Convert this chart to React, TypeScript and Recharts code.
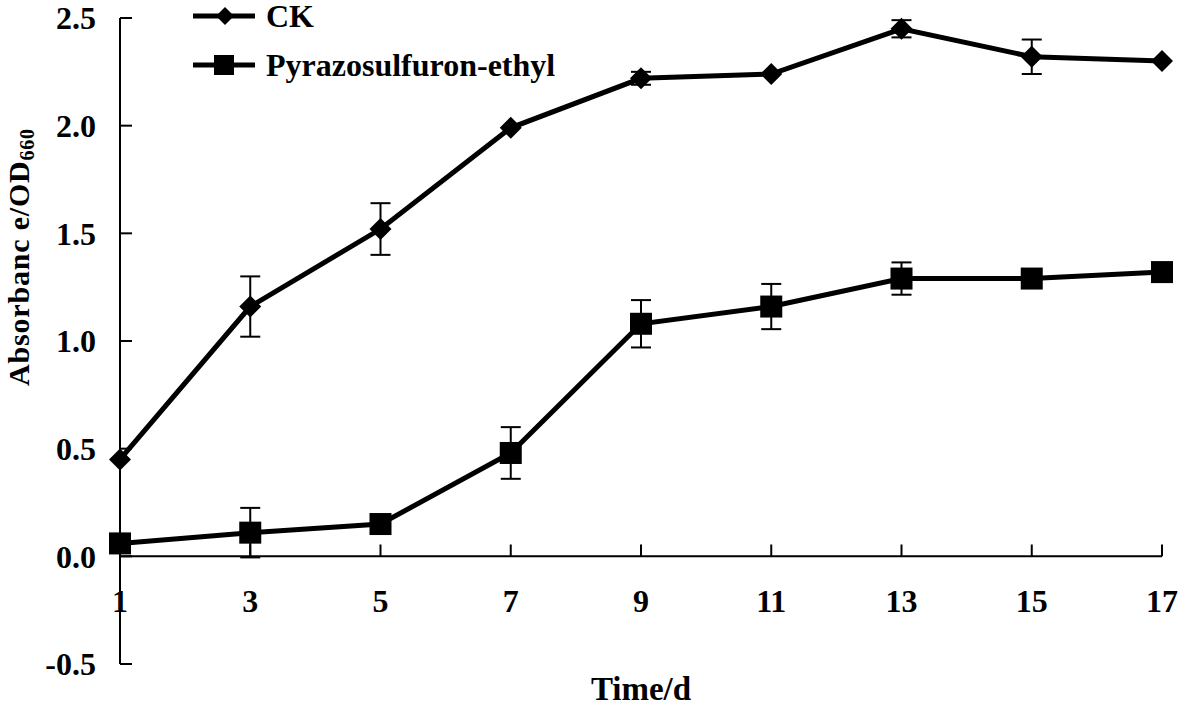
import { LineChart, Line, XAxis, YAxis, ErrorBar, ReferenceLine, ReferenceDot, Legend } from 'recharts';

// sampling days and absorbance (OD660)
const days = [1, 3, 5, 7, 9, 11, 13, 15, 17];
const ckValues = [0.45, 1.16, 1.52, 1.99, 2.22, 2.24, 2.45, 2.32, 2.3];
const ckErrors = [0, 0.14, 0.12, 0, 0.03, 0, 0.04, 0.08, 0];
const pyrazoValues = [0.06, 0.11, 0.15, 0.48, 1.08, 1.16, 1.29, 1.29, 1.32];
const pyrazoErrors = [0, 0.115, 0, 0.12, 0.11, 0.105, 0.075, 0, 0];
const yTicks = [-0.5, 0, 0.5, 1, 1.5, 2, 2.5];
const seriesNames = ['CK', 'Pyrazosulfuron-ethyl'];

const FONT = '"Liberation Serif", "Times New Roman", serif';

const data = days.map((d, i) => ({
    day: d,
    ck: ckValues[i],
    ckErr: ckErrors[i],
    pyrazo: pyrazoValues[i],
    pyrazoErr: pyrazoErrors[i],
}));

const Diamond = (props: any) => {
    const { cx, cy } = props;
    if (cx == null || cy == null) return null;
    const r = 11;
    return <polygon points={`${cx},${cy - r} ${cx + r},${cy} ${cx},${cy + r} ${cx - r},${cy}`} fill="#000" />;
};

const Square = (props: any) => {
    const { cx, cy } = props;
    if (cx == null || cy == null) return null;
    return <rect x={cx - 11} y={cy - 11} width={22} height={22} fill="#000" />;
};

// y ticks point inward (to the right of the axis)
const YTick = ({ x, y, payload }: any) => (
    <g>
        <line x1={x} y1={y} x2={x + 12} y2={y} stroke="#000" strokeWidth={2} />
        <text x={x - 24} y={y} dy="0.35em" textAnchor="end" fontFamily={FONT} fontSize={32} fontWeight="bold" fill="#000">
            {payload.value.toFixed(1)}
        </text>
    </g>
);

const YTitle = (props: any) => {
    const x = (props.viewBox?.x ?? 0) + 29;
    const y = 257;
    return (
        <text x={x} y={y} transform={`rotate(-90, ${x}, ${y})`} textAnchor="middle" fontFamily={FONT} fontSize={30} fontWeight="bold" letterSpacing={0.8} fill="#000">
            Absorbanc e/OD<tspan fontSize={20} dy={5}>660</tspan>
        </text>
    );
};

const renderLegend = () => (
    <div style={{ fontFamily: FONT, fontSize: 32, fontWeight: 'bold', color: '#000' }}>
        {seriesNames.map((name, i) => (
            <div key={name} style={{ display: 'flex', alignItems: 'center', height: 34, marginBottom: i === 0 ? 15 : 0, lineHeight: '34px' }}>
                <svg width={72} height={30}>
                    <line x1={3} y1={15} x2={65} y2={15} stroke="#000" strokeWidth={5} />
                    {i === 0 ? (
                        <polygon points="35,6 44,15 35,24 26,15" fill="#000" />
                    ) : (
                        <rect x={24} y={5} width={20} height={20} fill="#000" />
                    )}
                </svg>
                <span style={{ marginLeft: 4 }}>{name}</span>
            </div>
        ))}
    </div>
);

export default function App() {
    return (
        <div style={{ position: 'absolute', left: 0, top: 0, background: '#fff' }}>
            <LineChart width={1181} height={706} data={data} margin={{ top: 18, right: 19, bottom: 0, left: 0 }}>
                <XAxis
                    type="number"
                    dataKey="day"
                    domain={[1, 17]}
                    ticks={days}
                    tick={false}
                    axisLine={false}
                    tickLine={false}
                    height={42}
                    label={{ value: 'Time/d', position: 'insideBottom', offset: 6, fill: '#000', fontSize: 33, fontWeight: 'bold', fontFamily: FONT }}
                />
                <YAxis
                    type="number"
                    domain={[-0.5, 2.5]}
                    ticks={yTicks}
                    width={120}
                    tickLine={false}
                    tickSize={0}
                    tickMargin={0}
                    axisLine={{ stroke: '#000', strokeWidth: 2 }}
                    tick={<YTick />}
                    label={<YTitle />}
                />
                <Legend
                    layout="vertical"
                    align="center"
                    verticalAlign="middle"
                    wrapperStyle={{ top: -1, left: 190, width: 'auto' }}
                    content={renderLegend}
                />
                {/* x axis sits on y = 0 */}
                <ReferenceLine y={0} stroke="#000" strokeWidth={2} />
                {days.map((d) => (
                    <ReferenceLine key={`xt-${d}`} segment={[{ x: d, y: 0 }, { x: d, y: 0.055 }]} stroke="#000" strokeWidth={2} />
                ))}
                {days.map((d) => (
                    <ReferenceDot
                        key={`xl-${d}`}
                        x={d}
                        y={-0.205}
                        r={0}
                        shape={(p: any) => (
                            <text x={p.cx} y={p.cy} dy="0.35em" textAnchor="middle" fontFamily={FONT} fontSize={32} fontWeight="bold" fill="#000">
                                {d}
                            </text>
                        )}
                    />
                ))}
                <Line
                    dataKey="ck"
                    name={seriesNames[0]}
                    stroke="#000"
                    strokeWidth={5}
                    dot={<Diamond />}
                    activeDot={false}
                    isAnimationActive={false}
                >
                    <ErrorBar dataKey="ckErr" direction="y" width={10} stroke="#000" strokeWidth={2} />
                </Line>
                <Line
                    dataKey="pyrazo"
                    name={seriesNames[1]}
                    stroke="#000"
                    strokeWidth={5}
                    dot={<Square />}
                    activeDot={false}
                    isAnimationActive={false}
                >
                    <ErrorBar dataKey="pyrazoErr" direction="y" width={10} stroke="#000" strokeWidth={2} />
                </Line>
            </LineChart>
        </div>
    );
}
